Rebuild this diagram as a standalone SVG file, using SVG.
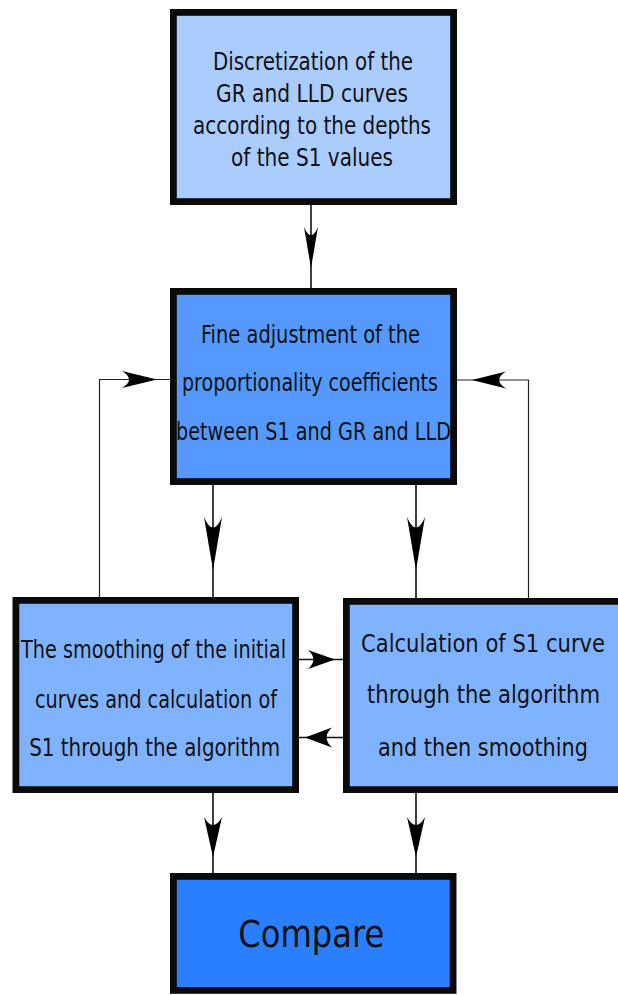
<svg xmlns="http://www.w3.org/2000/svg" width="618" height="995" viewBox="0 0 618 995">
<style>
  .box { stroke: #0a0a0a; stroke-width: 6.8; }
  .edge { fill: none; stroke: #0a0a0a; stroke-width: 6.8; }
  .t { font-family: "DejaVu Sans Condensed", "DejaVu Sans", sans-serif; font-stretch: condensed; font-size: 25px; fill: #111; text-anchor: middle; }
  .s { font-size: 22px; }
  .big { font-size: 37px; }
  .ln { fill: none; stroke: #111; stroke-width: 1.6; }
  .fb { fill: none; stroke: #222; stroke-width: 1.2; }
  .ah { fill: #000; stroke: none; }
</style>
<defs>
  <path id="head" d="M0,0 L-1,-0.5 Q-0.6,0 -1,0.5 Z"/>
</defs>
<rect width="618" height="995" fill="#ffffff"/>

<g id="connectors">
  <line class="ln" x1="311" y1="205" x2="311" y2="288"/>
  <line class="ln" x1="213" y1="485" x2="213" y2="597"/>
  <line class="ln" x1="416" y1="485" x2="416" y2="598"/>
  <line class="ln" x1="213" y1="793" x2="213" y2="873"/>
  <line class="ln" x1="416" y1="793" x2="416" y2="873"/>
  <polyline class="fb" points="99.5,597 99.5,379.5 170,379.5"/>
  <polyline class="fb" points="528.5,598 528.5,380 457,380"/>
  <line class="ln" x1="299" y1="659.5" x2="343" y2="659.5"/>
  <line class="ln" x1="343" y1="737.5" x2="299" y2="737.5"/>
  <use href="#head" class="ah" transform="translate(311,268) rotate(90) scale(41,14)"/>
  <use href="#head" class="ah" transform="translate(213,570) rotate(90) scale(53,18)"/>
  <use href="#head" class="ah" transform="translate(416,570) rotate(90) scale(53,18)"/>
  <use href="#head" class="ah" transform="translate(213,857) rotate(90) scale(40,18)"/>
  <use href="#head" class="ah" transform="translate(416,857) rotate(90) scale(40,18)"/>
  <use href="#head" class="ah" transform="translate(157,379.5) scale(35,17)"/>
  <use href="#head" class="ah" transform="translate(472,380) rotate(180) scale(34,17)"/>
  <use href="#head" class="ah" transform="translate(335,659.5) scale(27,19)"/>
  <use href="#head" class="ah" transform="translate(305,737.5) rotate(180) scale(27,20)"/>
</g>

<g id="discretization">
  <rect class="box" x="173.4" y="12.4" width="280.2" height="189.2" fill="#aaccff"/>
  <text class="t" x="313" y="69.5" textLength="200" lengthAdjust="spacingAndGlyphs">Discretization of the</text>
  <text class="t" x="312" y="102" textLength="192" lengthAdjust="spacingAndGlyphs">GR and LLD curves</text>
  <text class="t" x="312" y="134" textLength="238" lengthAdjust="spacingAndGlyphs">according to the depths</text>
  <text class="t" x="312" y="166" textLength="162" lengthAdjust="spacingAndGlyphs">of the S1 values</text>
</g>

<g id="fine-adjustment">
  <rect class="box" x="173.4" y="291.4" width="280.2" height="190.2" fill="#5599ff"/>
  <text class="t" x="310.5" y="342.5" textLength="219" lengthAdjust="spacingAndGlyphs">Fine adjustment of the</text>
  <text class="t" x="310" y="391" textLength="256" lengthAdjust="spacingAndGlyphs">proportionality coefficients</text>
  <text class="t" x="313.5" y="440" textLength="275" lengthAdjust="spacingAndGlyphs">between S1 and GR and LLD</text>
</g>

<g id="smoothing-first">
  <rect class="box" x="15.9" y="600.4" width="279.7" height="189.2" fill="#80b3ff"/>
  <text class="t" x="153.5" y="658" textLength="265" lengthAdjust="spacingAndGlyphs">The smoothing of the initial</text>
  <text class="t" x="156" y="707.5" textLength="242" lengthAdjust="spacingAndGlyphs">curves and calculation of</text>
  <text class="t" x="154.7" y="755.5" textLength="251" lengthAdjust="spacingAndGlyphs">S1 through the algorithm</text>
</g>

<g id="calculation-first">
  <rect x="343" y="598" width="275" height="195" fill="#80b3ff"/>
  <path class="edge" d="M618,601.4 H346.4 V789.6 H618"/>
  <text class="t s" transform="translate(483,651.5) scale(1,1.14)" textLength="244" lengthAdjust="spacingAndGlyphs">Calculation of S1 curve</text>
  <text class="t s" transform="translate(483.5,703) scale(1,1.14)" textLength="233" lengthAdjust="spacingAndGlyphs">through the algorithm</text>
  <text class="t s" transform="translate(483,755.5) scale(1,1.14)" textLength="210" lengthAdjust="spacingAndGlyphs">and then smoothing</text>
</g>

<g id="compare">
  <rect class="box" x="173.4" y="876.4" width="279.7" height="114" fill="#2a7fff"/>
  <text class="t big" x="311.3" y="947.3" textLength="146" lengthAdjust="spacingAndGlyphs">Compare</text>
</g>
</svg>
